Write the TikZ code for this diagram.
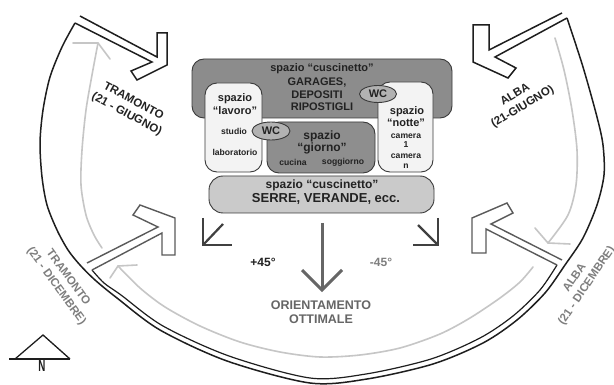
\documentclass[tikz,border=0pt]{standalone}
\usepackage{fontspec}
\setmainfont{Liberation Sans}
\usetikzlibrary{shapes.geometric}
\definecolor{inkc}{HTML}{1E1E1E}
\definecolor{arrowgray}{HTML}{5A5A5A}
\definecolor{sungray}{HTML}{C6C6C6}
\definecolor{boxline}{HTML}{3A3A3A}
\definecolor{darkbox}{HTML}{8C8C8C}
\definecolor{giornofill}{HTML}{8E8E8E}
\definecolor{wcfill}{HTML}{B2B2B2}
\definecolor{lightbox}{HTML}{CACACA}
\definecolor{paperfill}{HTML}{F3F3F3}
\definecolor{textc}{HTML}{222222}
\definecolor{midgray}{HTML}{666666}
\definecolor{softgray}{HTML}{7E7E7E}
\begin{document}
\begin{tikzpicture}[x=1pt,y=-1pt,
  outl/.style={draw=inkc, line width=1.5pt, line join=miter},
  outlgray/.style={draw=arrowgray, line width=1.4pt, line join=miter},
  sunarc/.style={draw=sungray, line width=1.6pt, line cap=round, line join=round},
  roombox/.style={draw=boxline, line width=0.9pt, rounded corners=12pt, inner sep=0pt},
  wcnode/.style={ellipse, draw=boxline, line width=0.9pt, fill=wcfill, inner sep=0pt,
     minimum width=38pt, minimum height=18pt, text=textc, font=\bfseries\fontsize{11}{12}\selectfont},
  txtA/.style={inner sep=0pt, text=textc, font=\bfseries\fontsize{11}{12}\selectfont},
  txtB/.style={inner sep=0pt, text=textc, font=\bfseries\fontsize{12}{13}\selectfont},
  txtS/.style={inner sep=0pt, text=textc, font=\bfseries\fontsize{8.6}{10}\selectfont},
  txtC/.style={inner sep=0pt, text=textc, font=\bfseries\fontsize{13}{14}\selectfont},
  dirlbl/.style={inner sep=0pt, align=center, font=\bfseries\fontsize{11.5}{14.5}\selectfont},
  cornermark/.style={draw=inkc!85!white, line width=2.2pt},
  mainarrow/.style={draw=midgray, line width=3pt},
]
\useasboundingbox (0,0) rectangle (614,385);
\fill[white] (0,0) rectangle (614,385);

% ---------- sun path arcs (light gray) ----------
\draw[sunarc] plot[smooth] coordinates {(102,248) (94,235) (86,215) (81,185) (82,150) (86,110) (92,75) (98,43)};
\draw[sunarc] (73,43) -- (98,43) -- (110,59);
\draw[sunarc] plot[smooth] coordinates {(555,38) (564,70) (572,110) (577,150) (576,185) (568,215) (548,243)};
\draw[sunarc] (535,228) -- (548,243) -- (570,244);
\draw[sunarc] plot[smooth] coordinates {(533,267) (520,282) (500,298) (470,318) (440,334) (400,348) (360,355) (320,357) (280,352) (240,342) (200,326) (165,307) (140,288) (118,266)};
\draw[sunarc] (110,278) -- (118,266) -- (137,265);

% ---------- outer ring ----------
\draw[outl] plot[smooth] coordinates {(75,23) (62,47) (50,77) (43,110) (40,143) (42,177) (47,205) (57,230) (68,250) (80,265) (95,280) (117,298) (160,330) (227,361) (310,383) (367,379) (433,364) (483,343) (517,320) (545,293) (565,265) (583,238) (597,205) (604,175) (603,145) (597,117) (583,67) (567,18)};
\draw[outl, line width=1.2pt] plot[smooth] coordinates {(92,270) (104,283) (121,295) (163,326) (229,356) (310,378) (366,374) (431,359) (480,338) (513,316) (540,290) (557,265)};

% ---------- big outlined arrows ----------
% tramonto giugno
\draw[outl] (80,16) -- (157,57) -- (157,33) -- (167,33) -- (167,65) -- (137,80) -- (131,71) -- (152,62) -- (75,23);
% alba giugno
\draw[outl] (562,13) -- (489,50) -- (489,25) -- (473,25) -- (473,62) -- (508,78) -- (516,68) -- (495,57) -- (567,18);
% tramonto dicembre
\draw[outlgray] (87,263) -- (158,227) -- (133,215) -- (140,205) -- (175,218) -- (175,255) -- (162,255) -- (162,233) -- (92,270);
% alba dicembre
\draw[outlgray] (562,260) -- (491,224) -- (513,213) -- (507,203) -- (472,218) -- (472,253) -- (486,253) -- (486,229) -- (557,265);

% ---------- direction labels ----------
\node[dirlbl, text=textc, rotate=-28] (tramG) at (130,108) {TRAMONTO\\(21 - GIUGNO)};
\node[dirlbl, text=textc, rotate=31] (albaG) at (519,101) {ALBA\\(21-GIUGNO)};
\node[dirlbl, text=softgray, rotate=-54] (tramD) at (62,282) {TRAMONTO\\(21 - DICEMBRE)};
\node[dirlbl, text=softgray, rotate=56] (albaD) at (581,282) {ALBA\\(21 - DICEMBRE)};

% ---------- rooms ----------
\node[roombox, fill=darkbox, minimum width=260pt, minimum height=59pt] (bufTop) at (322,88.5) {};
\node[txtA] (bufTopA) at (322,69) {spazio “cuscinetto”};
\node[txtA] (bufTopB) at (317,83) {GARAGES,};
\node[txtA] (bufTopC) at (317,95) {DEPOSITI};
\node[txtA] (bufTopD) at (322,107) {RIPOSTIGLI};

\node[roombox, fill=paperfill, minimum width=57pt, minimum height=89pt] (lavoro) at (233.5,127.5) {};
\node[txtA] (lavA) at (235,99) {spazio};
\node[txtA] (lavB) at (235,111) {“lavoro”};
\node[txtS] (lavC) at (234,131) {studio};
\node[txtS] (lavD) at (235,152) {laboratorio};

\node[roombox, fill=giornofill, minimum width=108pt, minimum height=51pt] (giorno) at (321,147.5) {};
\node[txtB] (gioA) at (322,136) {spazio};
\node[txtB] (gioB) at (322,148) {“giorno”};
\node[txtS] (gioC) at (293,162) {cucina};
\node[txtS] (gioD) at (343,162) {soggiorno};

\node[roombox, fill=paperfill, minimum width=55pt, minimum height=90pt] (notte) at (405.5,127) {};
\node[txtA] (notA) at (407,112) {spazio};
\node[txtA] (notB) at (406,123) {“notte”};
\node[txtS] (notC) at (406,136) {camera};
\node[txtS] (notD) at (406,145) {1};
\node[txtS] (notE) at (406,156) {camera};
\node[txtS] (notF) at (406,166) {n};

\node[wcnode] (wcA) at (271,131) {WC};
\node[wcnode, minimum width=37pt, minimum height=17pt] (wcB) at (378,94) {WC};

\node[roombox, rounded corners=14pt, fill=lightbox, minimum width=225pt, minimum height=37pt] (bufBot) at (321.5,194.5) {};
\node[txtB] (bufBotA) at (322,185) {spazio “cuscinetto”};
\node[txtC] (bufBotB) at (326,199) {SERRE, VERANDE, ecc.};

% ---------- orientation marks ----------
\draw[cornermark] (203,218) -- (203,245) -- (232,245);
\draw[cornermark] (223,224) -- (203,245);
\draw[cornermark] (438,218) -- (438,245) -- (413,245);
\draw[cornermark] (418,225) -- (438,245);

\coordinate (mainTop) at (322,223);
\coordinate (mainTip) at (322,290);
\draw[mainarrow] (mainTop) -- (mainTip);
\draw[mainarrow, line join=miter] (302,270) -- (mainTip) -- (342,270);

\node[txtB, text=textc] (plus) at (263,262) {+45°};
\node[txtB, text=softgray] (minus) at (381,262) {-45°};
\node[txtB, text=midgray, font=\bfseries\fontsize{12.5}{14}\selectfont] (oriA) at (321,305) {ORIENTAMENTO};
\node[txtB, text=midgray, font=\bfseries\fontsize{12.5}{14}\selectfont] (oriB) at (321,319) {OTTIMALE};

% ---------- north ----------
\draw[draw=inkc, line width=1.3pt, line join=miter] (9,359) -- (70,359);
\draw[draw=inkc, line width=1.3pt, line join=miter] (15,359) -- (43,335) -- (70,359);
\node[inner sep=0pt, anchor=north, text=inkc] (north) at (42,360) {\scalebox{0.75}[1.25]{\bfseries\fontsize{13}{14}\selectfont N}};
\end{tikzpicture}
\end{document}
